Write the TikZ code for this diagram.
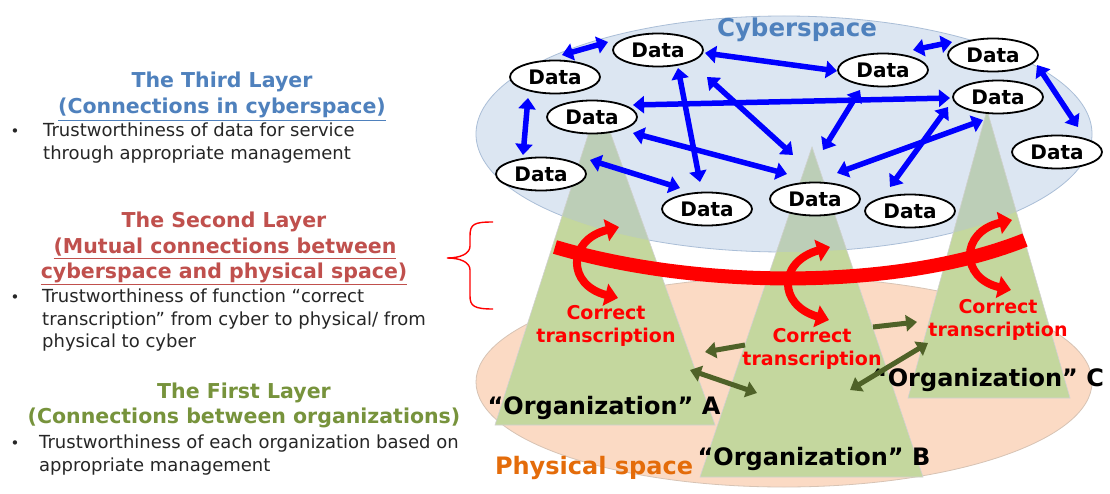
\documentclass[tikz,border=0pt]{standalone}
\usepackage{fontspec}
\setmainfont{DejaVu Sans}
\usetikzlibrary{arrows.meta,shapes.geometric}
\definecolor{cyberfill}{RGB}{220,230,242}
\definecolor{cyberline}{RGB}{170,190,215}
\definecolor{physfill}{RGB}{251,218,196}
\definecolor{physline}{RGB}{215,195,180}
\definecolor{trigreen}{RGB}{196,215,158}
\definecolor{trigray}{RGB}{188,206,183}
\definecolor{headblue}{RGB}{79,129,189}
\definecolor{headred}{RGB}{192,80,77}
\definecolor{headgreen}{RGB}{119,147,60}
\definecolor{bodytext}{RGB}{38,38,38}
\definecolor{arrowblue}{RGB}{0,0,255}
\definecolor{arrowgreen}{RGB}{79,98,40}
\definecolor{physorange}{RGB}{228,108,10}
\definecolor{corrred}{RGB}{255,0,0}
\begin{document}
\begin{tikzpicture}[x=1pt,y=-1pt,
  heading/.style={anchor=base,font=\bfseries\fontsize{20.5}{24}\selectfont,inner sep=0},
  bodyline/.style={anchor=base west,text=bodytext,font=\fontsize{18}{22}\selectfont,inner sep=0},
  bulletmark/.style={anchor=base,text=bodytext,font=\fontsize{15}{18}\selectfont,inner sep=0},
  datanode/.style={ellipse,draw=black,line width=1.8pt,fill=white,minimum width=90pt,minimum height=33pt,inner sep=0,font=\bfseries\fontsize{20}{24}\selectfont},
  bluearrow/.style={draw=arrowblue,line width=5.5pt,{Triangle[length=11pt,width=17pt]}-{Triangle[length=11pt,width=17pt]}},
  greenarrow/.style={draw=arrowgreen,line width=5pt},
  greentip/.style={-{Triangle[length=11pt,width=16pt]}},
  greentips/.style={{Triangle[length=11pt,width=16pt]}-{Triangle[length=11pt,width=16pt]}},
  redcurve/.style={draw=corrred,line width=8pt,{Triangle[length=13pt,width=22pt]}-{Triangle[length=13pt,width=22pt]}},
  corrlabel/.style={align=center,text=corrred,font=\bfseries\fontsize{19}{23}\selectfont,inner sep=0},
  orglabel/.style={font=\bfseries\fontsize{24}{28}\selectfont,inner sep=0,text=black},
  triedge/.style={draw=black!18,line width=0.6pt}
]
\useasboundingbox (0,0) rectangle (1110,494);
\fill[white] (0,0) rectangle (1110,494);

% ---------- left text ----------
\node[heading,text=headblue] (h3a) at (222,88) {The Third Layer};
\node[heading,text=headblue] (h3b) at (222,114) {\underline{(Connections in cyberspace)}};
\node[bulletmark] (b3) at (15,137) {•};
\node[bodyline] (t3a) at (43,137) {Trustworthiness of data for service};
\node[bodyline] (t3b) at (43,160) {through appropriate management};

\node[heading,text=headred] (h2a) at (224,228) {The Second Layer};
\node[heading,text=headred] (h2b) at (225,254) {\underline{(Mutual connections between}};
\node[heading,text=headred] (h2c) at (224,278) {\underline{cyberspace and physical space)}};
\node[bulletmark] (b2) at (15,302) {•};
\node[bodyline] (t2a) at (42,302) {Trustworthiness of function “correct};
\node[bodyline] (t2b) at (42,325) {transcription” from cyber to physical/ from};
\node[bodyline] (t2c) at (42,347) {physical to cyber};

\node[heading,text=headgreen] (h1a) at (244,398) {The First Layer};
\node[heading,text=headgreen] (h1b) at (244,423) {(Connections between organizations)};
\node[bulletmark] (b1) at (15,448) {•};
\node[bodyline] (t1a) at (39,448) {Trustworthiness of each organization based on};
\node[bodyline] (t1b) at (39,471) {appropriate management};

% brace
\draw[red,line width=1.4pt] (493,222) .. controls (474,222) and (470,224) .. (470,236) -- (470,246)
  .. controls (470,254) and (460,258) .. (447,258)
  .. controls (460,258) and (470,262) .. (470,270) -- (470,296)
  .. controls (470,306) and (474,309) .. (493,309);

% ---------- spaces ----------
\fill[physfill] (784,382) ellipse [x radius=308pt, y radius=105pt];
\draw[physline,line width=0.8pt] (784,382) ellipse [x radius=308pt, y radius=105pt];
\fill[cyberfill] (784,134) ellipse [x radius=308pt, y radius=118pt];
\draw[cyberline,line width=0.8pt] (784,134) ellipse [x radius=308pt, y radius=118pt];

% triangles
\coordinate (Atop) at (599,101); \coordinate (Al) at (495,425); \coordinate (Ar) at (715,425);
\coordinate (Btop) at (812,147); \coordinate (Bl) at (700,477); \coordinate (Br) at (923,477);
\coordinate (Ctop) at (987,110); \coordinate (Cl) at (908,398); \coordinate (Cr) at (1070,398);
\fill[trigreen] (Atop) -- (Al) -- (Ar) -- cycle;
\fill[trigreen] (Btop) -- (Bl) -- (Br) -- cycle;
\fill[trigreen] (Ctop) -- (Cl) -- (Cr) -- cycle;
\begin{scope}
  \clip (784,134) ellipse [x radius=308pt, y radius=118pt];
  \fill[trigray] (Atop) -- (Al) -- (Ar) -- cycle;
  \fill[trigray] (Btop) -- (Bl) -- (Br) -- cycle;
  \fill[trigray] (Ctop) -- (Cl) -- (Cr) -- cycle;
\end{scope}
\draw[triedge] (Atop) -- (Al) -- (Ar) -- cycle;
\draw[triedge] (Btop) -- (Bl) -- (Br) -- cycle;
\draw[triedge] (Ctop) -- (Cl) -- (Cr) -- cycle;

\node[font=\bfseries\fontsize{24.5}{28}\selectfont,text=headblue,inner sep=0] (cyber) at (797,30) {Cyberspace};
\node[font=\bfseries\fontsize{24}{28}\selectfont,text=physorange,inner sep=0] (phys) at (594,468) {Physical space};

% ---------- organizations ----------
\node[orglabel] (orgA) at (604,408) {“Organization” A};
\node[orglabel] (orgB) at (814,459) {“Organization” B};
\node[orglabel] (orgC) at (988,380) {“Organization” C};

\coordinate (g1s) at (745,345); \coordinate (g1e) at (705,352);
\coordinate (g2s) at (690,370); \coordinate (g2e) at (757,393);
\coordinate (g3s) at (873,327); \coordinate (g3e) at (917,322);
\coordinate (g4s) at (850,390); \coordinate (g4e) at (928,343);
\draw[greenarrow,greentip] (g1s) -- (g1e);
\draw[greenarrow,greentips] (g2s) -- (g2e);
\draw[greenarrow,greentip] (g3s) -- (g3e);
\draw[greenarrow,greentips] (g4s) -- (g4e);

% ---------- second layer ----------
\coordinate (arcL) at (555,247); \coordinate (arcR) at (1025,240);
\draw[corrred,line width=14pt] (arcL) .. controls (700,290) and (900,290) .. (arcR);
\coordinate (ra1) at (619,227); \coordinate (ra2) at (618,298);
\coordinate (rb1) at (830,247); \coordinate (rb2) at (829,320);
\coordinate (rc1) at (1012,220); \coordinate (rc2) at (1011,290);
\draw[redcurve] (ra1) .. controls (567,240) and (567,285) .. (ra2);
\draw[redcurve] (rb1) .. controls (778,262) and (778,305) .. (rb2);
\draw[redcurve] (rc1) .. controls (960,232) and (960,278) .. (rc2);

\node[corrlabel] (ctA) at (606,326) {Correct\\transcription};
\node[corrlabel] (ctB) at (812,349) {Correct\\transcription};
\node[corrlabel] (ctC) at (998,320) {Correct\\transcription};

% ---------- data nodes ----------
\node[datanode] (D1) at (658,50) {Data};
\node[datanode] (D2) at (555,77) {Data};
\node[datanode] (D3) at (592,117) {Data};
\node[datanode] (D4) at (541,174) {Data};
\node[datanode] (D5) at (707,209) {Data};
\node[datanode] (D6) at (883,70) {Data};
\node[datanode] (D7) at (993,55) {Data};
\node[datanode] (D8) at (998,97) {Data};
\node[datanode] (D9) at (1057,152) {Data};
\node[datanode] (D10) at (815,199) {Data};
\node[datanode] (D11) at (910,211) {Data};

% blue arrows
\draw[bluearrow] ([shift={(7,-22)}]D2.center) -- ([shift={(-50,-8)}]D1.center);
\draw[bluearrow] ([shift={(47,3)}]D1.center) -- ([shift={(-46,1)}]D6.center);
\draw[bluearrow] ([shift={(20,18)}]D1.center) -- ([shift={(-7,-27)}]D5.center);
\draw[bluearrow] ([shift={(49,27)}]D1.center) -- ([shift={(-22,-44)}]D10.center);
\draw[bluearrow] ([shift={(41,-12)}]D3.center) -- ([shift={(-48,1)}]D8.center);
\draw[bluearrow] ([shift={(41,16)}]D3.center) -- ([shift={(-28,-25)}]D10.center);
\draw[bluearrow] ([shift={(-27,21)}]D2.center) -- ([shift={(-18,-19)}]D4.center);
\draw[bluearrow] ([shift={(49,-14)}]D4.center) -- ([shift={(-27,-21)}]D5.center);
\draw[bluearrow] ([shift={(30,-20)}]D6.center) -- ([shift={(-41,-13)}]D7.center);
\draw[bluearrow] ([shift={(44,10)}]D7.center) -- ([shift={(21,-25)}]D9.center);
\draw[bluearrow] ([shift={(-23,20)}]D6.center) -- ([shift={(8,-49)}]D10.center);
\draw[bluearrow] ([shift={(-50,10)}]D8.center) -- ([shift={(-20,-24)}]D11.center);
\draw[bluearrow] ([shift={(-15,23)}]D8.center) -- ([shift={(22,-26)}]D10.center);

\end{tikzpicture}
\end{document}
